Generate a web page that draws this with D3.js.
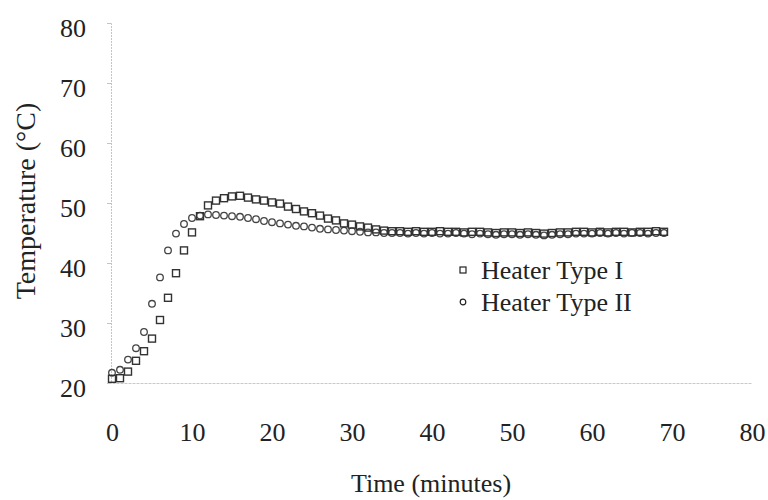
<!DOCTYPE html>
<html>
<head>
<meta charset="utf-8">
<script src="https://cdn.jsdelivr.net/npm/d3@7"></script>
<style>
  body { margin: 0; background: #fff; }
  text { font-family: "Liberation Serif", "Times New Roman", serif; fill: #222; }
</style>
</head>
<body>
<div class="container"></div>
<script>
// minutes, one reading per minute
var times = [0, 1, 2, 3, 4, 5, 6, 7, 8, 9,
    10, 11, 12, 13, 14, 15, 16, 17, 18, 19,
    20, 21, 22, 23, 24, 25, 26, 27, 28, 29,
    30, 31, 32, 33, 34, 35, 36, 37, 38, 39,
    40, 41, 42, 43, 44, 45, 46, 47, 48, 49,
    50, 51, 52, 53, 54, 55, 56, 57, 58, 59,
    60, 61, 62, 63, 64, 65, 66, 67, 68, 69];

var heaterTypeI = [20.7, 20.8, 21.9, 23.7, 25.3, 27.4, 30.5, 34.2, 38.3, 42.1,
    45.1, 47.8, 49.6, 50.4, 50.8, 51.1, 51.2, 50.9, 50.6, 50.4,
    50.1, 49.9, 49.4, 49.0, 48.6, 48.3, 47.9, 47.4, 47.1, 46.6,
    46.4, 46.1, 45.9, 45.6, 45.4, 45.3, 45.3, 45.2, 45.3, 45.2,
    45.2, 45.3, 45.2, 45.2, 45.1, 45.2, 45.2, 45.1, 45.0, 45.1,
    45.1, 45.0, 45.1, 45.0, 44.9, 45.0, 45.1, 45.1, 45.2, 45.2,
    45.1, 45.2, 45.1, 45.2, 45.2, 45.1, 45.2, 45.2, 45.3, 45.2];

var heaterTypeII = [21.7, 22.2, 23.9, 25.8, 28.5, 33.2, 37.6, 42.1, 44.9, 46.5,
    47.5, 47.9, 48.1, 48.0, 47.9, 47.8, 47.7, 47.5, 47.3, 47.0,
    46.8, 46.6, 46.4, 46.2, 46.1, 45.9, 45.7, 45.6, 45.5, 45.4,
    45.3, 45.2, 45.1, 45.1, 45.0, 45.0, 45.0, 44.9, 45.0, 44.9,
    45.0, 44.9, 44.9, 45.0, 44.9, 44.8, 44.9, 44.8, 44.7, 44.8,
    44.8, 44.7, 44.8, 44.7, 44.6, 44.7, 44.8, 44.8, 44.9, 44.9,
    44.9, 45.0, 44.9, 45.0, 44.9, 45.0, 45.0, 44.9, 45.0, 45.0];

var xTicks = [0, 10, 20, 30, 40, 50, 60, 70, 80];
var yTicks = [20, 30, 40, 50, 60, 70, 80];
var seriesNames = ['Heater Type I', 'Heater Type II'];

var drawChart = function () {
    var width = 768, height = 500;
    var left = 112, right = 752, top = 23, bottom = 383;

    var svg = d3.select('.container')
        .append('svg')
        .attr('width', width)
        .attr('height', height)
        .style('background', '#fff');

    var x = d3.scaleLinear().domain([0, 80]).range([left, right]);
    var y = d3.scaleLinear().domain([20, 80]).range([bottom, top]);

    // y axis (faint, dotted like the scan)
    var yAxis = svg.append('g')
        .attr('transform', 'translate(' + (left - 1) + ',0)')
        .call(d3.axisLeft(y).tickValues(yTicks).tickSize(4).tickPadding(21));
    yAxis.select('.domain').attr('stroke', '#c4c4c4').attr('stroke-dasharray', '2,1');
    yAxis.selectAll('.tick line').attr('stroke', '#c4c4c4');
    yAxis.selectAll('.tick text')
        .style('font-size', '26px')
        .attr('dy', '0.5em')
        .attr('fill', '#222');

    // x axis
    var xAxis = svg.append('g')
        .attr('transform', 'translate(0,' + bottom + ')')
        .call(d3.axisBottom(x).tickValues(xTicks).tickSize(0).tickPadding(40));
    xAxis.select('.domain').attr('stroke', '#c8c8c8').attr('stroke-dasharray', '3,1');
    xAxis.selectAll('.tick text')
        .style('font-size', '26px')
        .attr('fill', '#222');

    // axis titles
    svg.append('text')
        .attr('x', 431)
        .attr('y', 492)
        .attr('text-anchor', 'middle')
        .style('font-size', '26px')
        .text('Time (minutes)');

    svg.append('text')
        .attr('transform', 'translate(35,201) rotate(-90)')
        .attr('text-anchor', 'middle')
        .style('font-size', '28px')
        .text('Temperature (°C)');

    var sq = 7;
    var ptsI = times.map(function (t, i) { return [t, heaterTypeI[i]]; });
    var ptsII = times.map(function (t, i) { return [t, heaterTypeII[i]]; });

    svg.append('g')
        .selectAll('circle')
        .data(ptsII)
        .enter()
        .append('circle')
        .attr('cx', function (d) { return x(d[0]); })
        .attr('cy', function (d) { return y(d[1]); })
        .attr('r', 3.3)
        .style('fill', 'none')
        .style('stroke', '#444')
        .style('stroke-width', '1.3');

    svg.append('g')
        .selectAll('rect')
        .data(ptsI)
        .enter()
        .append('rect')
        .attr('x', function (d) { return x(d[0]) - sq / 2; })
        .attr('y', function (d) { return y(d[1]) - sq / 2; })
        .attr('width', sq)
        .attr('height', sq)
        .style('fill', 'none')
        .style('stroke', '#333')
        .style('stroke-width', '1.4');

    // legend
    var rowGap = 32;
    var legend = svg.append('g').attr('transform', 'translate(463,270)');
    legend.append('rect')
        .attr('x', -3).attr('y', -3)
        .attr('width', 6).attr('height', 6)
        .style('fill', 'none').style('stroke', '#222').style('stroke-width', '1.2');
    legend.append('circle')
        .attr('cx', 0).attr('cy', rowGap).attr('r', 2.8)
        .style('fill', 'none').style('stroke', '#222').style('stroke-width', '1.2');
    legend.selectAll('text')
        .data(seriesNames)
        .enter()
        .append('text')
        .attr('x', 18)
        .attr('y', function (d, i) { return i * rowGap; })
        .attr('dy', '0.36em')
        .style('font-size', '26px')
        .text(function (d) { return d; });
};
window.onload = drawChart;
</script>
</body>
</html>
